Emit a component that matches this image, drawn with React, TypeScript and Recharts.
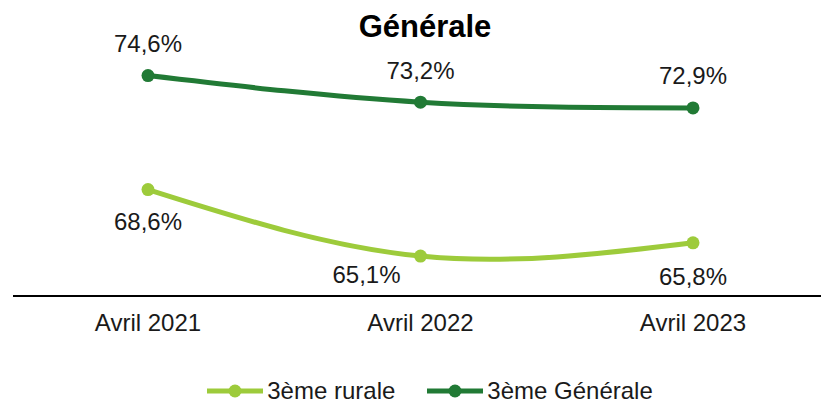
import { LineChart, Line, XAxis, YAxis, Legend, LabelList } from "recharts"

const periods = ["Avril 2021", "Avril 2022", "Avril 2023"]
const rurale = [68.6, 65.1, 65.8]
const generale = [74.6, 73.2, 72.9]

const LIGHT = "#9dcb3b"
const DARK = "#217a35"
const FONT = "'Liberation Sans', Arial, sans-serif"

const data = periods.map((p, i) => ({ period: p, rurale: rurale[i], generale: generale[i] }))

const fmt = (v: number) => v.toFixed(1).replace(".", ",") + "%"

// label offsets per point (dx, dy from the dot)
const ruraleOffsets = [
  [0, 32],
  [-54, 18],
  [0, 34],
]

const makeLabel = (offsets: number[][] | null, dyDefault: number) => (props: any) => {
  const { x, y, value, index } = props
  const [dx, dy] = offsets ? offsets[index] : [0, dyDefault]
  return (
    <text
      x={x + dx}
      y={y + dy}
      textAnchor="middle"
      dominantBaseline="central"
      fontSize={24}
      fontFamily={FONT}
      fill="#1a1a1a"
    >
      {fmt(value)}
    </text>
  )
}

const legendItems = [
  { name: "3ème rurale", color: LIGHT },
  { name: "3ème Générale", color: DARK },
]

function LegendContent() {
  return (
    <div
      style={{
        display: "flex",
        justifyContent: "center",
        alignItems: "center",
        height: 50,
        paddingTop: 27,
        paddingBottom: 1,
        boxSizing: "border-box",
        marginLeft: 18,
        fontFamily: FONT,
        fontSize: 24,
        lineHeight: "22px",
        color: "#1a1a1a",
      }}
    >
      {legendItems.map((it, i) => (
        <div key={it.name} style={{ display: "flex", alignItems: "center", marginLeft: i ? 32 : 0 }}>
          <svg width={56} height={14} style={{ marginRight: 4 }}>
            <line x1={0} y1={7} x2={56} y2={7} stroke={it.color} strokeWidth={5} />
            <circle cx={28} cy={7} r={6.5} fill={it.color} />
          </svg>
          <span>{it.name}</span>
        </div>
      ))}
    </div>
  )
}

export default function App() {
  return (
    <div style={{ position: "absolute", left: 0, top: 0, width: 821, height: 403, overflow: "hidden", background: "#fff" }}>
      <div
        style={{
          position: "absolute",
          left: 325,
          width: 200,
          top: 11,
          textAlign: "center",
          fontFamily: FONT,
          fontWeight: "bold",
          fontSize: 31,
          lineHeight: "31px",
          color: "#000",
        }}
      >
        Générale
      </div>
      <LineChart width={830} height={403} data={data} margin={{ top: 30, right: 1, left: 13, bottom: 0 }}>
        <XAxis
          dataKey="period"
          padding={{ left: 135, right: 136 }}
          axisLine={{ stroke: "#000", strokeWidth: 2 }}
          tickLine={false}
          tickSize={0}
          tickMargin={18}
          height={57}
          tick={{ fontSize: 24, fontFamily: FONT, fill: "#1a1a1a" }}
        />
        <YAxis hide domain={[63, 77]} />
        <Legend verticalAlign="bottom" height={50} content={<LegendContent />} />
        <Line
          type="natural"
          dataKey="rurale"
          name="3ème rurale"
          stroke={LIGHT}
          strokeWidth={5}
          dot={{ r: 6.5, fill: LIGHT, stroke: LIGHT, strokeWidth: 0 }}
          activeDot={false}
          isAnimationActive={false}
        >
          <LabelList dataKey="rurale" content={makeLabel(ruraleOffsets, 0)} />
        </Line>
        <Line
          type="natural"
          dataKey="generale"
          name="3ème Générale"
          stroke={DARK}
          strokeWidth={5}
          dot={{ r: 6.5, fill: DARK, stroke: DARK, strokeWidth: 0 }}
          activeDot={false}
          isAnimationActive={false}
        >
          <LabelList dataKey="generale" content={makeLabel(null, -32)} />
        </Line>
      </LineChart>
    </div>
  )
}
